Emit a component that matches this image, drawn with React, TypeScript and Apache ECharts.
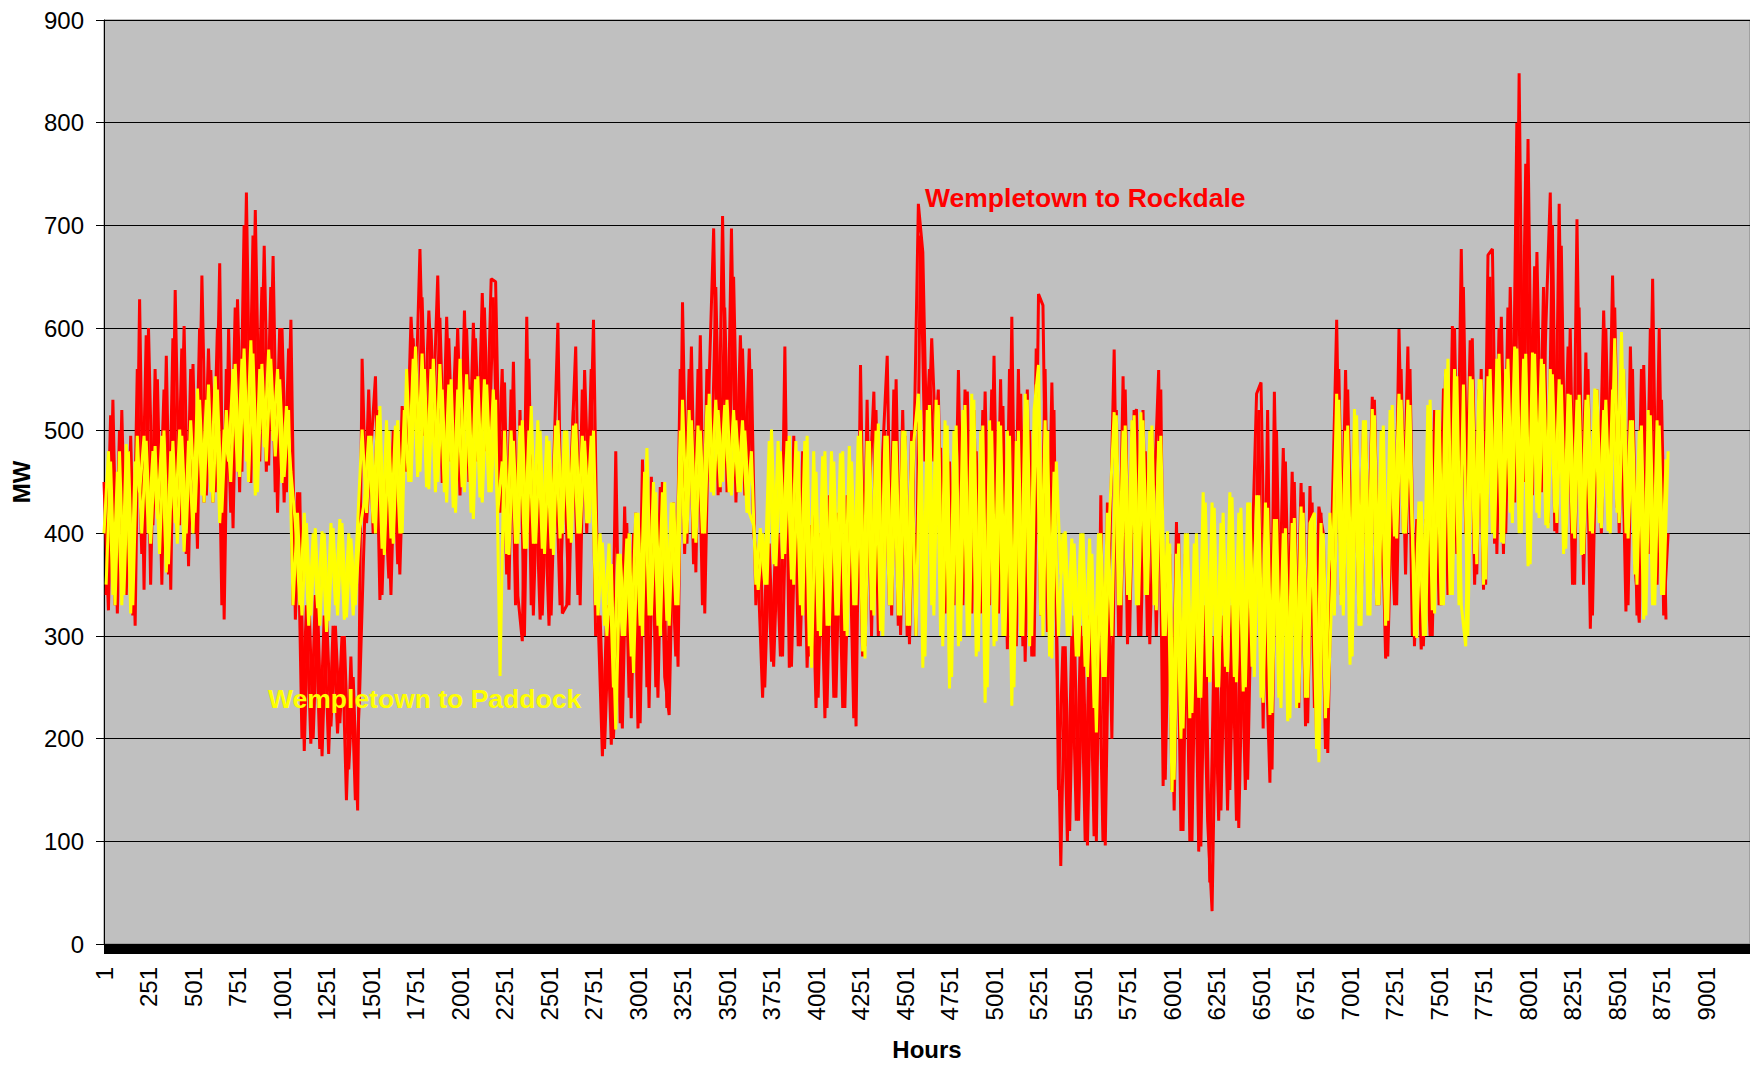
import React, { useEffect, useRef } from "react";
import * as echarts from "echarts";

// Hourly flows.
// Main samples are at hours 1, 26, 51, ... (every HOUR_STEP hours);
// mid samples are at hours 13, 38, 63, ... (between them).
const HOUR_STEP = 25;
const FIRST_HOUR = 1;
const MID_FIRST_HOUR = 13;

const rockdaleMW = [
  450, 325, 530, 322, 520, 340, 495, 310, 628, 345, 600, 408, 550, 350, 573, 345,
  637, 408, 602, 368, 565, 385, 651, 437, 559, 440, 663, 316, 599, 405, 628, 460,
  732, 449, 715, 470, 680, 466, 670, 420, 600, 440, 608, 316, 440, 188, 345, 200,
  330, 183, 322, 212, 310, 215, 300, 170, 260, 130, 570, 410, 483, 553, 335, 450,
  356, 500, 370, 524, 460, 611, 520, 677, 495, 617, 520, 651, 449, 611, 470, 582,
  437, 617, 450, 605, 470, 634, 480, 648, 645, 420, 547, 345, 567, 339, 295, 611,
  330, 455, 316, 440, 310, 460, 605, 322, 330, 470, 582, 330, 559, 420, 608, 322,
  183, 330, 194, 480, 215, 426, 240, 400, 210, 472, 250, 455, 250, 445, 260, 223,
  430, 270, 625, 390, 582, 362, 593, 322, 550, 697, 437, 709, 440, 697, 430, 593,
  437, 580, 400, 360, 240, 400, 275, 402, 280, 582, 269, 495, 290, 480, 269, 408,
  230, 400, 220, 437, 240, 420, 230, 437, 420, 212, 564, 290, 440, 538, 300, 480,
  573, 320, 550, 301, 495, 292, 480, 721, 674, 460, 590, 480, 483, 322, 470, 330,
  559, 330, 538, 322, 480, 322, 538, 330, 573, 322, 524, 287, 611, 290, 536, 275,
  500, 280, 633, 622, 304, 547, 322, 76, 290, 110, 320, 120, 300, 96, 322, 100,
  437, 96, 380, 579, 300, 553, 292, 500, 521, 300, 480, 292, 440, 559, 154, 400,
  150, 411, 110, 380, 100, 360, 90, 292, 120, 32, 292, 130, 339, 150, 330, 113,
  320, 160, 380, 536, 547, 300, 157, 538, 300, 483, 264, 460, 270, 449, 212, 446,
  230, 426, 400, 186, 420, 608, 340, 559, 330, 501, 322, 501, 360, 533, 330, 460,
  278, 440, 330, 599, 400, 582, 300, 414, 287, 414, 300, 520, 330, 541, 340, 602,
  380, 677, 400, 588, 350, 540, 345, 671, 677, 380, 611, 400, 640, 430, 848, 450,
  784, 437, 674, 440, 600, 732, 402, 721, 420, 582, 350, 706, 380, 576, 307, 520,
  425, 617, 430, 651, 425, 540, 324, 582, 370, 313, 564, 380, 648, 350, 530, 316,
];

const rockdaleMidMW = [
  340, 515, 330, 500, 350, 480, 320, 560, 380, 593, 350, 560, 400, 540, 360, 590,
  400, 580, 380, 560, 400, 600, 430, 580, 430, 600, 330, 560, 420, 620, 440, 700,
  460, 690, 470, 640, 460, 640, 440, 600, 430, 580, 330, 440, 200, 330, 195, 340,
  190, 320, 185, 310, 205, 300, 140, 280, 140, 250, 400, 540, 400, 520, 340, 480,
  340, 500, 360, 510, 480, 590, 470, 630, 470, 600, 480, 610, 460, 590, 455, 600,
  450, 600, 460, 590, 470, 620, 470, 630, 440, 560, 360, 540, 330, 520, 300, 570,
  320, 470, 320, 450, 320, 480, 330, 470, 330, 520, 340, 540, 400, 560, 300, 320,
  190, 320, 200, 330, 210, 410, 220, 420, 215, 440, 230, 430, 240, 450, 230, 400,
  280, 560, 380, 560, 370, 560, 330, 560, 450, 640, 440, 620, 450, 650, 440, 580,
  430, 560, 330, 390, 250, 390, 270, 400, 280, 480, 270, 440, 290, 460, 280, 420,
  240, 420, 230, 430, 240, 430, 230, 420, 220, 470, 280, 530, 300, 520, 310, 500,
  330, 540, 310, 520, 300, 500, 300, 690, 470, 560, 470, 540, 320, 490, 330, 500,
  330, 540, 330, 520, 330, 520, 330, 540, 320, 550, 300, 560, 300, 560, 290, 540,
  280, 580, 320, 560, 300, 520, 150, 290, 100, 300, 120, 310, 100, 320, 105, 320,
  100, 430, 200, 520, 300, 540, 300, 520, 300, 520, 300, 500, 300, 540, 160, 380,
  130, 400, 110, 390, 100, 370, 95, 330, 60, 300, 120, 320, 130, 330, 120, 330,
  150, 400, 300, 520, 210, 520, 170, 500, 260, 470, 270, 450, 230, 440, 215, 430,
  200, 420, 190, 400, 330, 560, 330, 540, 325, 500, 330, 500, 340, 530, 330, 470,
  280, 450, 330, 560, 360, 560, 290, 420, 290, 420, 300, 500, 330, 560, 350, 600,
  370, 640, 380, 590, 360, 560, 350, 650, 390, 600, 380, 620, 440, 800, 460, 760,
  440, 660, 430, 640, 410, 700, 400, 680, 400, 600, 350, 620, 350, 560, 320, 540,
  400, 600, 410, 620, 400, 560, 330, 560, 320, 560, 350, 600, 350, 600, 320, 400,
];

const paddockMW = [
  400, 480, 340, 460, 330, 487, 322, 470, 440, 495, 400, 480, 414, 495, 362, 480,
  410, 501, 382, 490, 400, 541, 437, 530, 440, 553, 410, 501, 470, 560, 460, 570,
  470, 588, 437, 560, 484, 579, 490, 560, 449, 524, 460, 410, 330, 420, 310, 400,
  327, 402, 304, 410, 330, 414, 316, 400, 320, 410, 501, 420, 495, 400, 524, 379,
  500, 390, 510, 400, 560, 450, 582, 460, 560, 443, 570, 450, 540, 430, 550, 420,
  570, 440, 540, 414, 553, 430, 545, 440, 530, 261, 500, 379, 490, 390, 510, 385,
  524, 390, 500, 380, 490, 379, 510, 400, 500, 391, 507, 400, 490, 410, 500, 320,
  391, 300, 370, 209, 380, 300, 400, 264, 420, 300, 483, 320, 440, 300, 450, 310,
  430, 330, 530, 400, 510, 391, 500, 400, 536, 437, 520, 450, 530, 437, 510, 440,
  500, 420, 408, 345, 400, 350, 501, 368, 480, 380, 495, 350, 480, 320, 495, 269,
  460, 300, 480, 310, 470, 320, 480, 300, 470, 330, 500, 278, 490, 320, 507, 300,
  495, 330, 490, 320, 500, 310, 490, 536, 269, 520, 330, 530, 300, 510, 249, 500,
  290, 520, 300, 536, 280, 500, 235, 510, 290, 509, 300, 500, 232, 490, 300, 536,
  290, 520, 564, 300, 500, 278, 470, 360, 402, 300, 390, 280, 400, 260, 380, 206,
  400, 260, 420, 518, 330, 500, 340, 510, 330, 518, 340, 500, 330, 490, 300, 402,
  148, 380, 200, 400, 220, 390, 240, 440, 260, 430, 250, 410, 270, 440, 260, 420,
  246, 430, 270, 437, 240, 430, 223, 414, 240, 400, 217, 410, 230, 426, 240, 410,
  420, 177, 400, 230, 350, 536, 330, 500, 272, 521, 310, 510, 320, 521, 330, 500,
  310, 520, 397, 536, 400, 530, 400, 298, 431, 300, 530, 322, 520, 330, 570, 340,
  553, 330, 290, 553, 380, 550, 350, 553, 400, 570, 391, 560, 420, 582, 400, 570,
  368, 576, 420, 570, 408, 560, 420, 550, 380, 536, 400, 530, 379, 530, 402, 541,
  410, 520, 402, 540, 420, 596, 400, 510, 360, 500, 316, 520, 330, 510, 340, 472,
];

const paddockMidMW = [
  350, 470, 330, 480, 340, 480, 330, 495, 400, 490, 390, 485, 380, 500, 370, 490,
  390, 495, 400, 510, 420, 530, 430, 545, 430, 540, 420, 520, 450, 565, 455, 580,
  450, 575, 440, 565, 470, 570, 475, 550, 455, 520, 330, 420, 320, 410, 320, 405,
  310, 400, 315, 405, 320, 410, 318, 395, 330, 405, 430, 495, 410, 515, 385, 510,
  395, 505, 400, 520, 450, 570, 455, 575, 445, 560, 440, 565, 440, 545, 425, 540,
  445, 555, 420, 550, 435, 550, 440, 540, 420, 470, 380, 500, 390, 505, 385, 500,
  390, 510, 385, 495, 385, 505, 395, 500, 395, 505, 400, 495, 410, 495, 330, 400,
  310, 390, 250, 380, 300, 395, 280, 420, 310, 460, 320, 450, 310, 440, 315, 430,
  330, 500, 390, 520, 395, 505, 400, 525, 440, 530, 445, 525, 440, 520, 440, 510,
  420, 480, 350, 405, 350, 490, 370, 490, 375, 490, 355, 490, 330, 490, 290, 480,
  305, 475, 310, 480, 320, 478, 305, 485, 330, 495, 285, 490, 325, 500, 305, 495,
  330, 490, 320, 500, 310, 490, 300, 520, 280, 525, 320, 525, 290, 505, 260, 505,
  295, 525, 300, 530, 285, 505, 250, 500, 295, 505, 300, 495, 250, 500, 300, 530,
  300, 545, 320, 510, 280, 460, 300, 400, 300, 395, 280, 400, 270, 395, 230, 400,
  260, 420, 300, 515, 330, 505, 335, 515, 330, 510, 340, 505, 325, 495, 300, 390,
  160, 390, 210, 400, 225, 400, 240, 430, 255, 425, 250, 420, 265, 435, 255, 425,
  250, 430, 260, 437, 235, 425, 225, 414, 230, 405, 220, 415, 235, 420, 240, 415,
  190, 410, 220, 420, 320, 530, 320, 505, 280, 515, 310, 510, 320, 515, 330, 505,
  315, 525, 395, 530, 400, 525, 300, 431, 300, 525, 325, 520, 330, 560, 340, 560,
  330, 545, 300, 550, 370, 550, 355, 560, 395, 575, 390, 570, 410, 580, 400, 575,
  370, 575, 415, 565, 405, 555, 410, 545, 385, 535, 395, 535, 380, 535, 400, 540,
  405, 530, 400, 590, 410, 560, 395, 510, 350, 505, 320, 515, 330, 505, 340, 480,
];

const X_LABEL_STEP = 250;
const X_AXIS_LAST_HOUR = 9248;
const Y_MIN = 0;
const Y_MAX = 900;
const Y_STEP = 100;

const FONT = '"Liberation Sans", Arial, sans-serif';
const RED = "#FF0000";
const YELLOW = "#FFFF00";

export default function App() {
  const ref = useRef<HTMLDivElement>(null);

  useEffect(() => {
    if (!ref.current) return;
    const chart = echarts.init(ref.current, null, { renderer: "svg" });
    // x is stored as (hour - 1) so that ticks at multiples of 250 read 1, 251, 501 ...
    const toPairs = (arr: number[], firstHour: number) =>
      arr.map((v, i) => [firstHour - 1 + i * HOUR_STEP, v]);

    const lineSeries = (name: string, data: number[][], color: string, z: number) => ({
      name,
      type: "line",
      data,
      showSymbol: false,
      symbol: "none",
      silent: true,
      lineStyle: { color, width: 3 },
      itemStyle: { color },
      z,
    });

    chart.setOption({
      animation: false,
      backgroundColor: "#ffffff",
      grid: {
        left: 104,
        right: 0,
        top: 20,
        bottom: 121,
        show: true,
        backgroundColor: "#C0C0C0",
        borderColor: "#808080",
        borderWidth: 1,
        outerBoundsMode: "none",
        containLabel: false,
      },
      xAxis: {
        type: "value",
        min: 0,
        max: X_AXIS_LAST_HOUR - 1,
        interval: X_LABEL_STEP,
        position: "bottom",
        offset: 5,
        axisLine: {
          show: true,
          onZero: false,
          lineStyle: { color: "#000", width: 10, cap: "butt" },
        },
        axisTick: { show: false },
        splitLine: { show: false },
        axisLabel: {
          rotate: 90,
          margin: 18,
          fontSize: 24,
          color: "#000",
          fontFamily: FONT,
          showMaxLabel: false,
          showMinLabel: true,
          formatter: (v: number) => String(v + 1),
        },
        name: "Hours",
        nameLocation: "middle",
        nameGap: 88,
        nameTextStyle: { fontSize: 24, fontWeight: "bold", color: "#000", fontFamily: FONT },
      },
      yAxis: {
        type: "value",
        min: Y_MIN,
        max: Y_MAX,
        interval: Y_STEP,
        axisLine: { show: true, lineStyle: { color: "#000", width: 1 } },
        axisTick: { show: true, length: 8, lineStyle: { color: "#000" } },
        axisLabel: { fontSize: 24, color: "#000", margin: 20, fontFamily: FONT },
        splitLine: { show: true, lineStyle: { color: "#000", width: 1 } },
        name: "MW",
        nameLocation: "middle",
        nameGap: 68,
        nameTextStyle: { fontSize: 24, fontWeight: "bold", color: "#000", fontFamily: FONT },
      },
      series: [
        lineSeries("Wempletown to Rockdale", toPairs(rockdaleMW, FIRST_HOUR), RED, 2),
        lineSeries("Wempletown to Rockdale (mid)", toPairs(rockdaleMidMW, MID_FIRST_HOUR), RED, 2),
        lineSeries("Wempletown to Paddock", toPairs(paddockMW, FIRST_HOUR), YELLOW, 3),
        lineSeries("Wempletown to Paddock (mid)", toPairs(paddockMidMW, MID_FIRST_HOUR), YELLOW, 3),
      ],
      graphic: [
        {
          type: "text",
          x: 925,
          y: 198,
          z: 100,
          style: {
            text: "Wempletown to Rockdale",
            fill: RED,
            fontSize: 26.5,
            fontWeight: "bold",
            fontFamily: FONT,
            verticalAlign: "middle",
            textVerticalAlign: "middle",
          },
        },
        {
          type: "text",
          x: 268,
          y: 699,
          z: 100,
          style: {
            text: "Wempletown to Paddock",
            fill: YELLOW,
            fontSize: 26.5,
            fontWeight: "bold",
            fontFamily: FONT,
            verticalAlign: "middle",
            textVerticalAlign: "middle",
          },
        },
      ],
    });

    return () => chart.dispose();
  }, []);

  return (
    <div
      ref={ref}
      style={{
        position: "fixed",
        left: 0,
        top: 0,
        width: 1750,
        height: 1065,
        background: "#fff",
      }}
    />
  );
}
